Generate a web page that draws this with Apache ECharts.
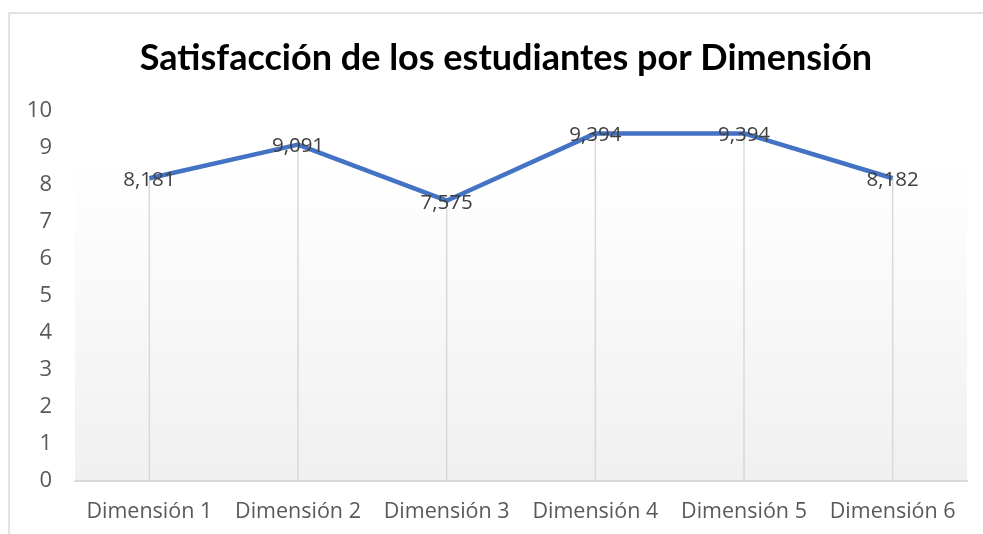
<!DOCTYPE html>
<html>
<head>
<meta charset="utf-8">
<script src="https://cdn.jsdelivr.net/npm/echarts@6/dist/echarts.min.js"></script>
<style>
html,body{margin:0;padding:0;background:#fff;}
#c{width:983px;height:534px;}
</style>
</head>
<body>
<div id="c"></div>
<script>
const categories = ['Dimensión 1','Dimensión 2','Dimensión 3','Dimensión 4','Dimensión 5','Dimensión 6'];
const values = [8.181, 9.091, 7.575, 9.394, 9.394, 8.182];
const labelText = ['8,181','9,091','7,575','9,394','9,394','8,182'];
const yTicks = [0,1,2,3,4,5,6,7,8,9,10];

const FONT = '"Open Sans", sans-serif';
const TFONT = 'Lato, sans-serif';
const chart = echarts.init(document.getElementById('c'));
chart.setOption({
  animation: false,
  backgroundColor: '#fff',
  title: {
    text: 'Satisfacción de los estudiantes por Dimensión',
    left: 501, top: 35, textAlign: 'center', padding: 5,
    textStyle: {fontFamily: TFONT, fontWeight: 'bold', fontSize: 36, color: '#000'}
  },
  graphic: [
    {type: 'rect', z: -10, shape: {x: 9, y: 13, width: 990, height: 540},
     style: {fill: 'none', stroke: '#d9d9d9', lineWidth: 1.5}},
    {type: 'rect', z: -5, shape: {x: 75, y: 162, width: 892, height: 319},
     style: {fill: new echarts.graphic.LinearGradient(0,0,0,1,[{offset:0,color:'#ffffff'},{offset:1,color:'#f0f0f0'}])}}
  ],
  grid: {left: 75, right: 16, top: 111, bottom: 53, containLabel: false},
  xAxis: {
    type: 'category', data: categories, boundaryGap: true,
    axisLine: {lineStyle: {color: '#d9d9d9', width: 2}},
    axisTick: {show: false},
    axisLabel: {fontFamily: FONT, fontSize: 21.5, color: '#595959', margin: 20, interval: 0}
  },
  yAxis: {
    type: 'value', min: 0, max: 10, interval: 1,
    axisLine: {show: false}, axisTick: {show: false},
    splitLine: {show: false},
    axisLabel: {fontFamily: FONT, fontSize: 22, color: '#595959', margin: 23,
      formatter: v => yTicks.includes(v) ? String(v) : ''}
  },
  series: [
    {type: 'bar', data: values, barWidth: 1.5, silent: true, z: 1,
     itemStyle: {color: '#d9d9d9'}},
    {type: 'line', data: values, symbol: 'circle', symbolSize: 1, showSymbol: true, z: 5,
     itemStyle: {color: 'rgba(0,0,0,0)'},
     lineStyle: {color: '#4472C4', width: 4.5},
     label: {show: true, position: 'inside', offset: [0, 2], fontFamily: FONT, fontSize: 20.5, color: '#404040',
       formatter: p => labelText[p.dataIndex]}}
  ]
});
</script>
</body>
</html>
